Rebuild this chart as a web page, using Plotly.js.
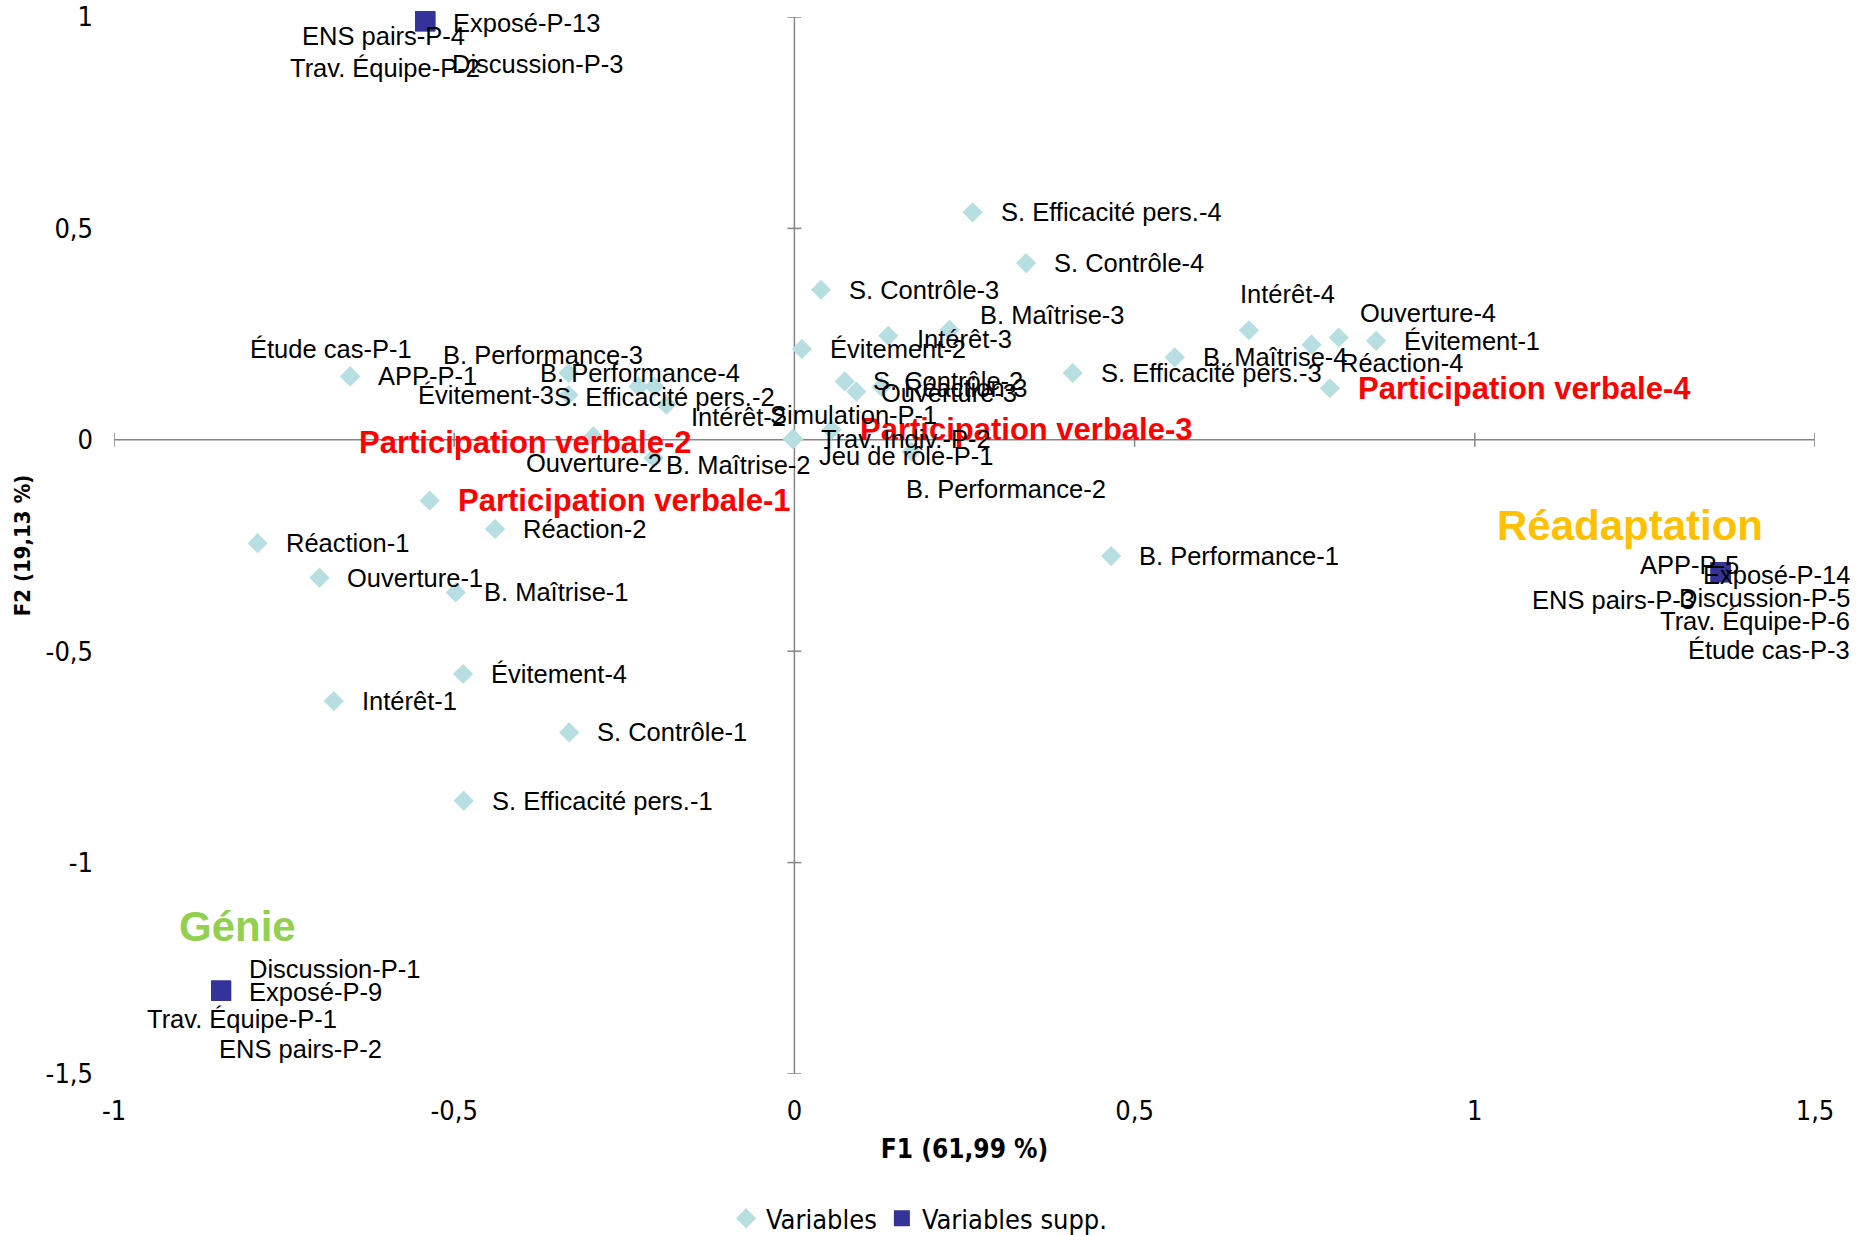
<!DOCTYPE html>
<html>
<head>
<meta charset="utf-8">
<script src="https://cdn.plot.ly/plotly-3.0.1.min.js"></script>
<style>html,body{margin:0;padding:0;background:#fff}#chart{width:1856px;height:1235px}</style>
</head>
<body>
<div id="chart"></div>
<script>
// ---- Data ----
const varNames = [
  "S. Efficacité pers.-4", "S. Contrôle-4", "S. Contrôle-3", "B. Maîtrise-3", "Intérêt-3",
  "Évitement-2", "S. Contrôle-2", "Ouverture-3", "Réaction-3", "S. Efficacité pers.-3",
  "B. Maîtrise-4", "Intérêt-4", "Réaction-4", "Ouverture-4", "Évitement-1",
  "Participation verbale-4", "B. Performance-1", "B. Performance-2", "Participation verbale-3",
  "Trav. Indiv.-P-2", "Jeu de rôle-P-1", "Simulation-P-1", "Intérêt-2", "S. Efficacité pers.-2",
  "B. Performance-4", "B. Performance-3", "Évitement-3", "Participation verbale-2",
  "B. Maîtrise-2", "Ouverture-2", "APP-P-1", "Étude cas-P-1", "Participation verbale-1",
  "Réaction-2", "Réaction-1", "Ouverture-1", "B. Maîtrise-1", "Évitement-4", "Intérêt-1",
  "S. Contrôle-1", "S. Efficacité pers.-1"
];
const varX = [
  0.262, 0.3405, 0.039, 0.228, 0.138,
  0.011, 0.074, 0.091, 0.128, 0.409,
  0.559, 0.668, 0.760, 0.800, 0.855,
  0.787, 0.4655, 0.172, 0.0546,
  -0.002, -0.002, -0.002, -0.188, -0.206,
  -0.229, -0.332, -0.332, -0.2955,
  -0.207, -0.207, -0.653, -0.653, -0.536,
  -0.440, -0.789, -0.698, -0.4977, -0.487, -0.677,
  -0.331, -0.486
];
const varY = [
  0.538, 0.418, 0.355, 0.260, 0.246,
  0.215, 0.138, 0.114, 0.125, 0.158,
  0.195, 0.259, 0.225, 0.242, 0.234,
  0.122, -0.275, -0.028, 0.0237,
  0.002, 0.002, 0.002, 0.083, 0.126,
  0.126, 0.158, 0.106, 0.008,
  -0.043, -0.043, 0.150, 0.150, -0.144,
  -0.211, -0.2445, -0.326, -0.361, -0.554, -0.618,
  -0.692, -0.854
];

const suppNames = [
  "Exposé-P-13", "ENS pairs-P-4", "Trav. Équipe-P-2", "Discussion-P-3",
  "Discussion-P-1", "Exposé-P-9", "Trav. Équipe-P-1", "ENS pairs-P-2",
  "APP-P-5", "Exposé-P-14", "ENS pairs-P-3", "Discussion-P-5", "Trav. Équipe-P-6", "Étude cas-P-3"
];
const suppX = [
  -0.5426, -0.5426, -0.5426, -0.5426,
  -0.8426, -0.8426, -0.8426, -0.8426,
  1.3615, 1.3615, 1.3615, 1.3615, 1.3615, 1.3615
];
const suppY = [
  0.990, 0.990, 0.990, 0.990,
  -1.303, -1.303, -1.303, -1.303,
  -0.313, -0.313, -0.313, -0.313, -0.313, -0.313
];

const xTickVals = [-1, -0.5, 0, 0.5, 1, 1.5];
const xTickText = ["-1", "-0,5", "0", "0,5", "1", "1,5"];
const yTickVals = [-1.5, -1, -0.5, 0, 0.5, 1];
const yTickText = ["-1,5", "-1", "-0,5", "0", "0,5", "1"];

const xTitle = "F1 (61,99 %)";
const yTitle = "F2 (19,13 %)";
const groupLabels = ["Réadaptation", "Génie"];

// ---- Label placement (pixel offsets from each point: dx, dy, anchor) ----
const labelPos = {
  "B. Maîtrise-3": [28, -15, "left"],
  "Intérêt-3": [27, 3, "left"],
  "Ouverture-3": [23, 1, "left"],
  "Réaction-3": [21, 1, "left"],
  "Intérêt-4": [-11, -36, "left"],
  "Réaction-4": [26, 18, "left"],
  "Ouverture-4": [19, -24, "left"],
  "B. Performance-2": [-7, 37, "left"],
  "Jeu de rôle-P-1": [24, 17, "left"],
  "Simulation-P-1": [-25, -24, "left"],
  "Intérêt-2": [23, 12, "left"],
  "S. Efficacité pers.-2": [-102, 10, "left"],
  "B. Performance-4": [-101, -14, "left"],
  "B. Performance-3": [-128, -18, "left"],
  "Évitement-3": [-153, 0, "left"],
  "Participation verbale-2": [-236, 6, "left"],
  "B. Maîtrise-2": [10, 7, "left"],
  "Ouverture-2": [-130, 5, "left"],
  "Étude cas-P-1": [-102, -27, "left"],
  "Exposé-P-13": [26, 2, "left"],
  "ENS pairs-P-4": [-125, 15, "left"],
  "Trav. Équipe-P-2": [-137, 47, "left"],
  "Discussion-P-3": [25, 43, "left"],
  "Discussion-P-1": [26, -22, "left"],
  "Exposé-P-9": [26, 1, "left"],
  "Trav. Équipe-P-1": [-76, 28, "left"],
  "ENS pairs-P-2": [-4, 58, "left"],
  "APP-P-5": [-83, -7, "left"],
  "Exposé-P-14": [131, 3, "right"],
  "ENS pairs-P-3": [-191, 28, "left"],
  "Discussion-P-5": [131, 26, "right"],
  "Trav. Équipe-P-6": [131, 49, "right"],
  "Étude cas-P-3": [131, 78, "right"]
};

const LABEL_FONT = "'Liberation Sans', Arial, sans-serif";
const NARROW_FONT = "'Liberation Sans Narrow', 'DejaVu Sans Condensed', 'Liberation Sans', sans-serif";

function makeLabel(name, x, y) {
  const p = labelPos[name] || [26, 0, "left"];
  const isPV = name.indexOf("Participation verbale") === 0;
  return {
    x: x, y: y, xref: "x", yref: "y",
    text: isPV ? "<b>" + name + "</b>" : name,
    showarrow: false,
    xanchor: p[2], yanchor: "middle",
    xshift: p[0], yshift: -p[1],
    font: isPV ? {family: LABEL_FONT, size: 31, color: "#FF0000"}
               : {family: LABEL_FONT, size: 25.5, color: "#000000"}
  };
}

const annotations = [];
varNames.forEach((n, i) => annotations.push(makeLabel(n, varX[i], varY[i])));
suppNames.forEach((n, i) => annotations.push(makeLabel(n, suppX[i], suppY[i])));

// group titles (free text boxes of the original chart)
annotations.push({
  x: 0.8119, y: 0.5188, xref: "paper", yref: "paper", showarrow: false,
  xanchor: "left", yanchor: "middle", text: "<b>" + groupLabels[0] + "</b>",
  font: {family: LABEL_FONT, size: 42, color: "#FFC000"}
});
annotations.push({
  x: 0.0373, y: 0.1393, xref: "paper", yref: "paper", showarrow: false,
  xanchor: "left", yanchor: "middle", text: "<b>" + groupLabels[1] + "</b>",
  font: {family: LABEL_FONT, size: 42, color: "#92D050"}
});

// ---- Axes drawn through the origin, with cross tick marks ----
const AXC = "#868686";
const shapes = [
  {type: "line", xref: "x", yref: "y", x0: xTickVals[0], x1: xTickVals[xTickVals.length - 1], y0: 0, y1: 0,
   line: {color: AXC, width: 1.5}, layer: "below"},
  {type: "line", xref: "x", yref: "y", x0: 0, x1: 0, y0: yTickVals[0], y1: yTickVals[yTickVals.length - 1],
   line: {color: AXC, width: 1.5}, layer: "below"}
];
xTickVals.forEach(v => shapes.push({
  type: "line", xref: "x", yref: "y", ysizemode: "pixel", yanchor: 0,
  x0: v, x1: v, y0: -7, y1: 7, line: {color: AXC, width: 1.5}, layer: "below"
}));
yTickVals.forEach(v => shapes.push({
  type: "line", xref: "x", yref: "y", xsizemode: "pixel", xanchor: 0,
  y0: v, y1: v, x0: -7, x1: 7, line: {color: AXC, width: 1.5}, layer: "below"
}));

const traces = [
  {
    type: "scatter", mode: "markers", name: "Variables",
    x: varX, y: varY, text: varNames, hoverinfo: "text",
    cliponaxis: false,
    marker: {symbol: "diamond", size: 15.5, color: "#B7DEE1", line: {width: 0}}
  },
  {
    type: "scatter", mode: "markers", name: "Variables supp.",
    x: suppX, y: suppY, text: suppNames, hoverinfo: "text",
    cliponaxis: false,
    marker: {symbol: "square", size: 20, color: "#333399", line: {width: 0}}
  }
];

const layout = {
  width: 1856, height: 1235,
  margin: {l: 114, r: 41, t: 17, b: 161, pad: 0, autoexpand: false},
  paper_bgcolor: "#ffffff", plot_bgcolor: "#ffffff",
  showlegend: true,
  legend: {
    orientation: "h", x: 0.4733, xanchor: "center", y: -0.137, yanchor: "middle",
    font: {family: NARROW_FONT, size: 27, color: "#000"},
    itemsizing: "trace", itemwidth: 30, tracegroupgap: 0
  },
  xaxis: {
    range: [-1, 1.5], showgrid: false, zeroline: false, showline: false, automargin: false,
    tickmode: "array", tickvals: xTickVals, ticktext: xTickText,
    ticks: "", ticklabelstandoff: 18,
    tickfont: {family: NARROW_FONT, size: 27, color: "#000"},
    title: {text: "<b>" + xTitle + "</b>", standoff: 14,
            font: {family: NARROW_FONT, size: 26, color: "#000"}},
    fixedrange: true
  },
  yaxis: {
    range: [-1.5, 1], showgrid: false, zeroline: false, showline: false, automargin: false,
    tickmode: "array", tickvals: yTickVals, ticktext: yTickText,
    ticks: "", ticklabelstandoff: 20,
    tickfont: {family: NARROW_FONT, size: 27, color: "#000"},
    title: {text: "<b>" + yTitle + "</b>", standoff: 8,
            font: {family: "'DejaVu Sans Condensed', 'DejaVu Sans', sans-serif", size: 22, color: "#000"}},
    fixedrange: true
  },
  shapes: shapes,
  annotations: annotations
};

Plotly.newPlot("chart", traces, layout, {displayModeBar: false, staticPlot: true});
</script>
</body>
</html>
